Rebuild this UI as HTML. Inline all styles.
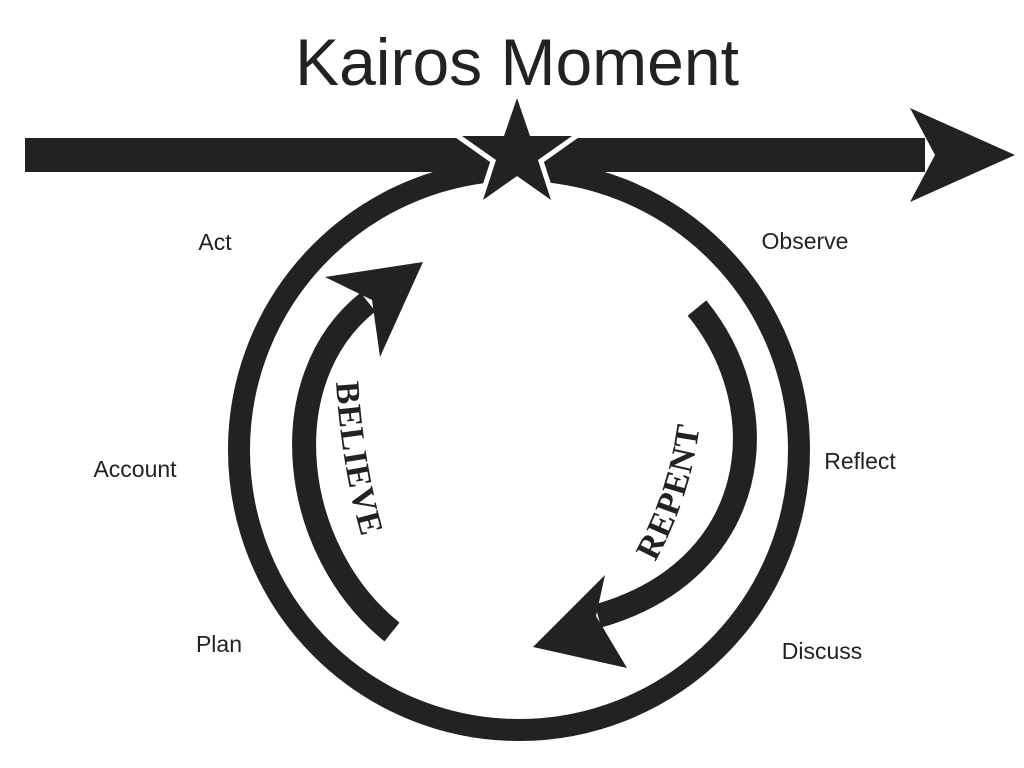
<!DOCTYPE html>
<html><head><style>
html,body{margin:0;padding:0;background:#fff;}
svg{display:block;}
</style></head><body>
<svg width="1024" height="768" viewBox="0 0 1024 768" xmlns="http://www.w3.org/2000/svg">
<rect width="1024" height="768" fill="#fff"/>
<text x="517" y="85" text-anchor="middle" font-family="Liberation Sans, sans-serif" font-size="66" fill="#222">Kairos Moment</text>
<rect x="25" y="138" width="900" height="34" fill="#222"/>
<polygon points="1015,155 910,108 935,155 910,202" fill="#222"/>
<circle cx="519" cy="450" r="280" fill="none" stroke="#222" stroke-width="22"/>
<polygon points="517,98 530,136 572,136 538,160 551,200 517,176 483,200 496,160 462,136 504,136" fill="#222" stroke="#fff" stroke-width="10" stroke-linejoin="miter"/>
<polygon points="517,98 530,136 572,136 538,160 551,200 517,176 483,200 496,160 462,136 504,136" fill="#222"/>
<path d="M392,632 C 290,550 270,380 368,302" fill="none" stroke="#222" stroke-width="24"/>
<polygon points="423,262 325,277 372,300 380,357" fill="#222"/>
<path d="M697,308 C 780,410 760,570 598,616" fill="none" stroke="#222" stroke-width="24"/>
<polygon points="533,647 605,575 596,616 627,668" fill="#222"/>
<defs>
<path id="bp" d="M336,382 Q 343,490 374,575"/>
<path id="rp" d="M655,562 Q 700,480 703,385"/>
</defs>
<text font-family="Liberation Serif, serif" font-weight="bold" font-size="34" fill="#222" letter-spacing="1"><textPath href="#bp">BELIEVE</textPath></text>
<text font-family="Liberation Serif, serif" font-weight="bold" font-size="34" fill="#222" letter-spacing="1"><textPath href="#rp">REPENT</textPath></text>
<g font-family="Liberation Sans, sans-serif" font-size="23" fill="#222" text-anchor="middle">
<text x="215" y="250">Act</text>
<text x="805" y="249">Observe</text>
<text x="135" y="477">Account</text>
<text x="860" y="469">Reflect</text>
<text x="219" y="652">Plan</text>
<text x="822" y="659">Discuss</text>
</g>
</svg>
</body></html>
